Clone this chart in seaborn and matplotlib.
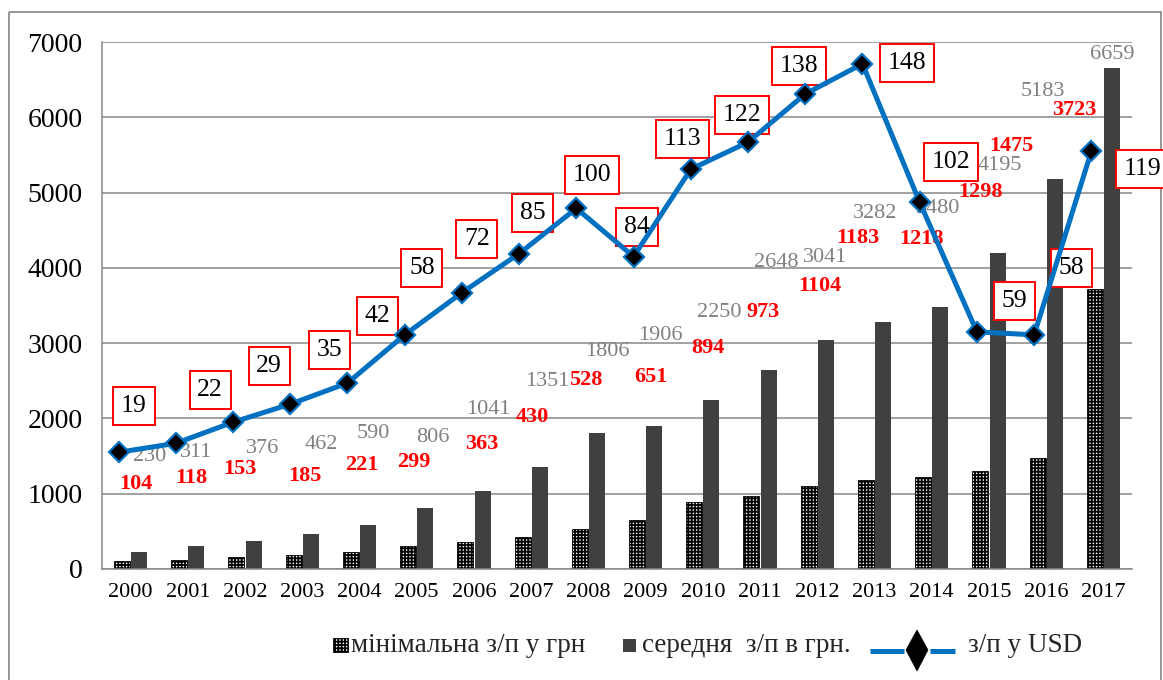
import numpy as np
import pandas as pd
import matplotlib
matplotlib.use("Agg")
import matplotlib.pyplot as plt
from matplotlib.patches import Rectangle, Polygon
from matplotlib.lines import Line2D
import seaborn as sns

# ---- data ---------------------------------------------------------------
years = [str(y) for y in range(2000, 2018)]
min_wage_uah = [104, 118, 153, 185, 221, 299, 363, 430, 528, 651,
                894, 973, 1104, 1183, 1218, 1298, 1475, 3723]
avg_wage_uah = [230, 311, 376, 462, 590, 806, 1041, 1351, 1806, 1906,
                2250, 2648, 3041, 3282, 3480, 4195, 5183, 6659]
avg_wage_usd = [19, 22, 29, 35, 42, 58, 72, 85, 100, 84,
                113, 122, 138, 148, 102, 59, 58, 119]

lbl_min = "мінімальна з/п у грн"
lbl_avg = "середня  з/п в грн."
lbl_usd = "з/п у USD"

# ---- label placement (x in category units, y in UAH-axis units) ----------
usd_label_pos = [(0.06, 2165), (1.39, 2377), (2.42, 2696), (3.47, 2909),
                 (4.32, 3360), (5.09, 3998), (6.05, 4383), (7.03, 4728),
                 (8.06, 5233), (8.85, 4542), (9.64, 5711), (10.69, 6030),
                 (11.68, 6681), (13.57, 6721), (14.34, 5406), (15.44, 3560),
                 (16.44, 3998), (17.69, 5313)]
avg_label_pos = [(0.34, 1488), (1.14, 1541), (2.30, 1607), (3.34, 1660),
                 (4.24, 1806), (5.28, 1753), (6.25, 2125), (7.28, 2484),
                 (8.34, 2895), (9.25, 3095), (10.28, 3413), (11.29, 4071),
                 (12.14, 4131), (13.01, 4728), (14.11, 4782), (15.19, 5366),
                 (15.95, 6349), (17.15, 6840)]
min_label_pos = [(0.09, 1129), (1.06, 1209), (1.91, 1328), (3.05, 1235),
                 (4.04, 1381), (4.95, 1421), (6.14, 1660), (7.02, 2019),
                 (7.96, 2510), (9.09, 2550), (10.09, 2935), (11.05, 3413),
                 (12.05, 3759), (12.71, 4396), (13.83, 4383), (14.86, 5007),
                 (15.40, 5618), (16.49, 6096)]

# ---- style ----------------------------------------------------------------
sns.set_style("white")
plt.rcParams["font.family"] = ["Liberation Serif", "DejaVu Serif"]
plt.rcParams["hatch.linewidth"] = 1.3

GRID = "#888888"
BLUE = "#0070C0"
DARK = "#404040"

W, H = 1163, 680
fig = plt.figure(figsize=(W / 100, H / 100), dpi=100)

# pixel-space layer for the frame and the legend
pix = fig.add_axes([0, 0, 1, 1])
pix.set_xlim(0, W)
pix.set_ylim(H, 0)
pix.axis("off")
pix.set_zorder(-1)
pix.add_patch(Rectangle((9, 12), 1152, 700, fill=False, ec="#8c8c8c", lw=1.3))

# ---- bars -----------------------------------------------------------------
ax = fig.add_axes([102 / W, 1 - 569 / H, (1132 - 102) / W, (569 - 42) / H])
ax.set_facecolor("none")

df = pd.DataFrame({
    "year": years * 2,
    "value": min_wage_uah + avg_wage_uah,
    "series": [lbl_min] * len(years) + [lbl_avg] * len(years),
})
sns.barplot(data=df, x="year", y="value", hue="series",
            hue_order=[lbl_min, lbl_avg], palette=["white", DARK],
            width=0.6, gap=0.07, saturation=1, legend=False,
            errorbar=None, ax=ax)

for bar in ax.containers[0]:
    bar.set_facecolor("white")
    bar.set_edgecolor("black")
    bar.set_hatch("+++++")
    bar.set_linewidth(0.6)
for bar in ax.containers[1]:
    bar.set_linewidth(0)

ax.set_xlim(-0.5, len(years) - 0.5)
ax.set_ylim(0, 7000)
ax.set_xlabel("")
ax.set_ylabel("")

ax.set_yticks(range(0, 7001, 1000))
ax.set_xticks(range(len(years)))
ax.set_xticklabels(years)
ax.set_xticks(np.arange(-0.5, len(years), 1), minor=True)
ax.tick_params(axis="y", length=5, width=1, color=GRID, labelsize=20, pad=9,
               labelcolor="black")
ax.tick_params(axis="x", which="major", length=0, labelsize=16, pad=10,
               labelcolor="black")
ax.tick_params(axis="x", which="minor", length=4, width=1, color=GRID)
ax.yaxis.grid(True, color=GRID, lw=1.1)
ax.xaxis.grid(False)
ax.set_axisbelow(True)
for side in ("top", "right"):
    ax.spines[side].set_visible(False)
for side in ("left", "bottom"):
    ax.spines[side].set_color(GRID)
    ax.spines[side].set_linewidth(1.1)

# ---- value labels ---------------------------------------------------------
for v, (x, y) in zip(avg_wage_uah, avg_label_pos):
    ax.text(x, y, str(v), ha="center", va="center", fontsize=16,
            color="#808080", zorder=4, clip_on=False)
for v, (x, y) in zip(min_wage_uah, min_label_pos):
    ax.text(x, y, str(v), ha="center", va="center", fontsize=16,
            color="red", fontweight="bold", zorder=4, clip_on=False)
for v, (x, y) in zip(avg_wage_usd, usd_label_pos):
    ax.text(x, y, str(v), ha="center", va="center", fontsize=18.5,
            color="black", zorder=5, clip_on=False,
            bbox=dict(boxstyle="square,pad=0.3", fc="white", ec="red", lw=1.4))

# ---- USD line on its own scale --------------------------------------------
ax2 = fig.add_axes(ax.get_position().bounds)
ax2.set_zorder(2)
ax2.set_facecolor("none")
line_x = np.arange(len(years)) - 0.21
sns.lineplot(x=line_x, y=avg_wage_usd, ax=ax2, sort=False, color=BLUE,
             linewidth=3.6, marker="D", markersize=10.5,
             markerfacecolor="black", markeredgecolor=BLUE,
             markeredgewidth=1.6, errorbar=None)
ax2.set_xlim(-0.5, len(years) - 0.5)
ax2.set_ylim(-19.75, 155.25)
ax2.axis("off")

# ---- legend ---------------------------------------------------------------
LEG_Y = 646
LEG_FS = 19.5
pix.add_patch(Rectangle((333, 638), 15, 14, fc="white", ec="black",
                        hatch="+++++", lw=0.6))
pix.text(351, LEG_Y, lbl_min, fontsize=LEG_FS, va="center", ha="left")
pix.add_patch(Rectangle((623, 639), 13, 13, fc=DARK, ec="none"))
pix.text(642, LEG_Y, lbl_avg, fontsize=LEG_FS, va="center", ha="left")
pix.add_line(Line2D([870, 904], [651, 651], color=BLUE, lw=3.6,
                    solid_capstyle="butt"))
pix.add_line(Line2D([930, 955], [651, 651], color=BLUE, lw=3.6,
                    solid_capstyle="butt"))
pix.add_patch(Polygon([(917, 630), (928, 650), (917, 671), (906, 650)],
                      closed=True, fc="black", ec="black", lw=0.5))
pix.text(968, LEG_Y, lbl_usd, fontsize=LEG_FS, va="center", ha="left")

fig.savefig("out.png", dpi=100)
